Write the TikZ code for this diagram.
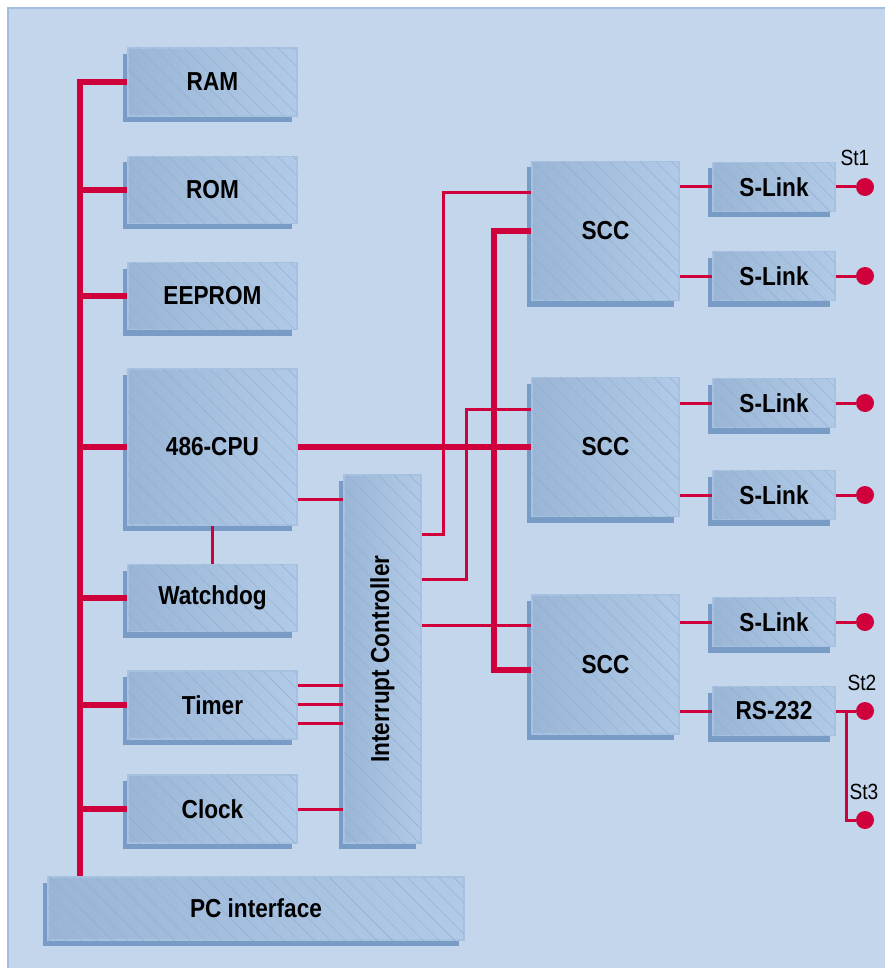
\documentclass[tikz,border=0pt]{standalone}
\usepackage{fontspec}
\setmainfont{Liberation Sans}[FakeStretch=0.87]
\usepackage{graphicx}
\usetikzlibrary{calc, shadows, patterns.meta}
\definecolor{panelbg}{HTML}{C4D6EB}
\definecolor{paneledge}{HTML}{A3BDDC}
\definecolor{boxleft}{HTML}{9BB5D6}
\definecolor{boxright}{HTML}{B0CAE7}
\definecolor{boxedge}{HTML}{A7C1E0}
\definecolor{boxshadow}{HTML}{789CC6}
\definecolor{boxhatch}{HTML}{93ADCF}
\definecolor{busred}{HTML}{D0003C}
\newcommand\unitfont{\bfseries\fontsize{26}{30}\selectfont}

\begin{document}
\begin{tikzpicture}[x=1pt, y=-1pt,
  unit/.style={draw=boxedge, line width=1.5pt, left color=boxleft, right color=boxright,
    postaction={pattern color=boxhatch, pattern={Lines[angle=-45, distance=11pt, line width=0.4pt]}},
    drop shadow={shadow xshift=-5pt, shadow yshift=-6pt, fill=boxshadow, opacity=1},
    inner sep=0pt, font=\unitfont},
  memunit/.style={unit, minimum width=169pt, minimum height=67pt},
  sccunit/.style={unit, minimum width=147pt, minimum height=139pt},
  linkunit/.style={unit, minimum width=122pt, minimum height=49pt},
  bus/.style={busred, line width=6pt},
  wire/.style={busred, line width=3pt},
  term/.style={circle, fill=busred, minimum size=18pt, inner sep=0pt},
  stlabel/.style={font=\fontsize{22}{26}\selectfont}]
  %% 1 unit = 1 px of the 885 x 968 frame, y grows downwards

  \useasboundingbox (0,0) rectangle (885,968);
  % Background panel
  \fill[panelbg] (8,8) rectangle (885,968);
  \draw[paneledge, line width=2pt] (8,968) -- (8,8) -- (885,8);

  % Left column: memories and peripherals
  \node[memunit, minimum height=68pt] (ram) at (212.5,82) {RAM};
  \node[memunit] (rom) at (212.5,190) {ROM};
  \node[memunit] (eeprom) at (212.5,296) {EEPROM};
  \node[memunit, minimum height=156pt] (cpu) at (212.5,447) {486-CPU};
  \node[memunit] (wdog) at (212.5,598) {Watchdog};
  \node[memunit, minimum height=68pt] (timer) at (212.5,705) {Timer};
  \node[memunit, minimum height=68pt] (clock) at (212.5,809) {Clock};
  \node[unit, minimum width=416pt, minimum height=63pt] (pc) at (256,908.5) {PC interface};

  % Interrupt controller
  \node[unit, minimum width=77pt, minimum height=368pt] (ic) at (382.5,659)
    {\rotatebox{90}{Interrupt Controller}};

  % Serial controllers and line drivers
  \node[sccunit] (scc1) at (605.5,231) {SCC};
  \node[sccunit] (scc2) at (605.5,447) {SCC};
  \node[sccunit] (scc3) at (605.5,664.5) {SCC};
  \node[linkunit] (sl1) at (774,187) {S-Link};
  \node[linkunit] (sl2) at (774,276) {S-Link};
  \node[linkunit] (sl3) at (774,403) {S-Link};
  \node[linkunit] (sl4) at (774,495) {S-Link};
  \node[linkunit] (sl5) at (774,622) {S-Link};
  \node[linkunit] (rs) at (774,711) {RS-232};

  % System bus on the left
  \coordinate (busx) at (80,0);
  \draw[bus] (ram.west) -| (busx |- pc.north);
  \foreach \n in {rom,eeprom,cpu,wdog,timer,clock}{
    \draw[bus] (busx |- \n.west) -- (\n.west);
  }

  % CPU bus to the SCCs
  \draw[bus] (cpu.east) -- (cpu.east -| scc2.west);
  \draw[bus] (scc1.west) -- ++(-37,0) |- ($(scc3.west)+(0,5.5)$);

  % Interrupt lines
  \coordinate (cpuirq) at ($(cpu.east)+(0,52)$);
  \draw[wire] (cpuirq) -- (cpuirq -| ic.west);
  \draw[wire] (cpu.south) -- (wdog.north);
  \foreach \dy in {-20,-1,18}{
    \draw[wire] ($(timer.east)+(0,\dy)$) -- ($(timer.east -| ic.west)+(0,\dy)$);
  }
  \draw[wire] (clock.east) -- (clock.east -| ic.west);
  \coordinate (irqa) at ($(ic.east)+(0,-125)$);
  \coordinate (irqb) at ($(ic.east)+(0,-80)$);
  \coordinate (irqc) at ($(ic.east)+(0,-34)$);
  \draw[wire] (irqa) -- ++(22,0) |- ($(scc1.west)+(0,-38)$);
  \draw[wire] (irqb) -- ++(45,0) |- ($(scc2.west)+(0,-38)$);
  \draw[wire] (irqc) -- (irqc -| scc3.west);

  % SCC channels to the line drivers
  \foreach \s/\l in {scc1/sl1, scc1/sl2, scc2/sl3, scc2/sl4, scc3/sl5, scc3/rs}{
    \draw[wire] (\l.west -| \s.east) -- (\l.west);
  }

  % Outside terminals
  \node[term] (t1) at (865,187) {};
  \node[term] (t2) at (865,276) {};
  \node[term] (t3) at (865,403) {};
  \node[term] (t4) at (865,495) {};
  \node[term] (t5) at (865,622) {};
  \node[term] (t6) at (865,711) {};
  \node[term] (t7) at (865,820) {};
  \foreach \l/\t in {sl1/t1, sl2/t2, sl3/t3, sl4/t4, sl5/t5, rs/t6}{
    \draw[wire] (\l.east) -- (\t);
  }
  \coordinate (split) at ($(rs.east)+(11,0)$);
  \draw[wire] (split) |- (t7);

  % Terminal labels
  \node[stlabel] (st1) at (855,158) {St1};
  \node[stlabel] (st2) at (862,683) {St2};
  \node[stlabel] (st3) at (864,792) {St3};
\end{tikzpicture}
\end{document}
